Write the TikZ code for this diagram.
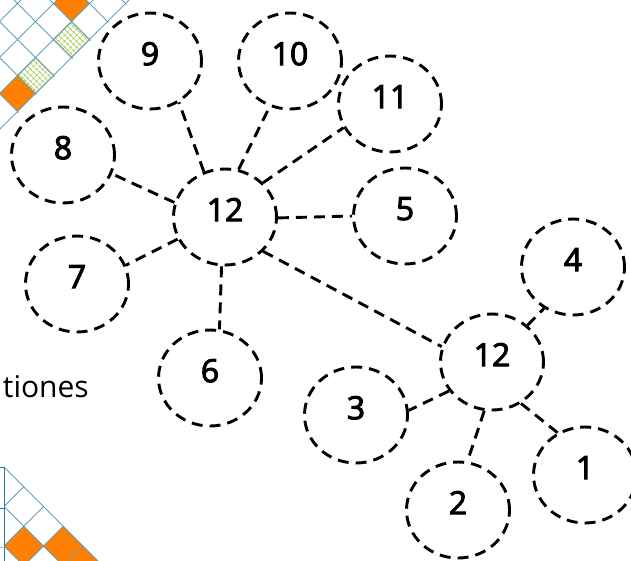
\documentclass[tikz,border=0pt]{standalone}
\usepackage{fontspec}
\setmainfont{Open Sans}
\newfontfamily\numfont{Open Sans}[FakeBold=3]
\usetikzlibrary{shapes.geometric,patterns.meta}

\definecolor{gridteal}{HTML}{5E9FB8}
\definecolor{frameteal}{HTML}{2C7C99}
\definecolor{tileorange}{HTML}{FF8000}
\definecolor{hatchgreen}{HTML}{A9C94C}
\definecolor{edgegreen}{HTML}{78A32E}

\tikzset{
  bubble/.style={ellipse, draw, line width=2.9pt, dash pattern=on 11pt off 7pt,
    minimum width=103pt, minimum height=96pt, inner sep=0pt,
    font=\numfont\fontsize{32}{36}\selectfont, text depth=14.8pt},
  link/.style={line width=2.9pt, dash pattern=on 11pt off 7pt},
  gridline/.style={gridteal, line width=0.8pt},
  orangetile/.style={fill=tileorange},
  greentile/.style={fill=white, postaction={pattern={Hatch[angle=45,distance=4pt,line width=0.55pt]}, pattern color=hatchgreen}, draw=edgegreen, line width=0.8pt}
}

\begin{document}
\begin{tikzpicture}[x=1pt,y=-1pt]
\useasboundingbox (0,0) rectangle (631,560);

% ---- diagonal tile corner, top left ----
\begin{scope}
  \clip (0,0) -- (131,0) -- (0,131) -- cycle;
  \foreach \cx/\cy in {71.5/3.5, 17.5/93.5}
    \fill[orangetile] (\cx,\cy-18) -- (\cx+18,\cy) -- (\cx,\cy+18) -- (\cx-18,\cy) -- cycle;
  \foreach \cx/\cy in {71.5/39.5, 35.5/75.5}
    \path[greentile] (\cx,\cy-18) -- (\cx+18,\cy) -- (\cx,\cy+18) -- (\cx-18,\cy) -- cycle;
  \foreach \u in {21,57,93,129}
    \draw[gridline] (-20,\u+20) -- (\u+20,-20);
  \foreach \v in {-94,-58,-22,14,50,86,122}
    \draw[gridline] (-60,-60-\v) -- (220,220-\v);
\end{scope}

% ---- diagonal tile corner, bottom left ----
\begin{scope}
  \clip (4,467) -- (120,583) -- (4,583) -- cycle;
  \foreach \cx/\cy in {23.75/546, 63.25/546, 83/565.75}
    \fill[orangetile] (\cx,\cy-19.75) -- (\cx+19.75,\cy) -- (\cx,\cy+19.75) -- (\cx-19.75,\cy) -- cycle;
  \foreach \u in {510.5,550,589.5,629}
    \draw[gridline] (0,\u) -- (\u-440,440);
  \foreach \v in {-502.5,-542}
    \draw[gridline] (0,-\v) -- (200,200-\v);
\end{scope}
\draw[gridline] (4,467) -- (100,563);
\draw[frameteal, line width=1pt] (4,467) -- (4,562);
\draw[frameteal, line width=1pt] (0,467) -- (4,467);
\draw[frameteal, line width=1pt] (0,508) -- (4,508);
\draw[gridteal!70, line width=1pt] (0,547) -- (5,547);

% ---- cut-off caption ----
\node[anchor=base east, inner sep=0pt, font=\fontsize{30}{34}\selectfont] (caption) at (89,397) {tiones};

% ---- bubbles ----
\node[bubble] (ta) at (225,217) {12};
\node[bubble] (tb) at (492,362) {12};
\node[bubble] (n9)  at (150,61)  {9};
\node[bubble] (n10) at (290,61)  {10};
\node[bubble] (n11) at (390,104) {11};
\node[bubble] (n8)  at (63,155)  {8};
\node[bubble] (n5)  at (405,216) {5};
\node[bubble] (n7)  at (77,284)  {7};
\node[bubble] (n6)  at (210,378) {6};
\node[bubble] (n4)  at (573,267) {4};
\node[bubble] (n3)  at (356,415) {3};
\node[bubble] (n2)  at (458,510) {2};
\node[bubble] (n1)  at (585,475) {1};

% ---- links from the upper hub ----
\draw[link] (ta.115)   -- (n9.-55);
\draw[link] (ta.74.5)  -- (n10.246);
\draw[link] (ta.42)    -- (n11.207);
\draw[link] (ta.164)   -- (n8.-21);
\draw[link] (ta.-1)    -- (n5.180);
\draw[link] (ta.205)   -- (n7.21);
\draw[link] (ta.266.5) -- (n6.79.5);
\draw[link] (ta.-42)   -- (tb.163);

% ---- links from the lower hub ----
\draw[link] (tb.46)    -- (n4.235);
\draw[link] (tb.214)   -- (n3.5.6);
\draw[link] (tb.261.5) -- (n2.79.5);
\draw[link] (tb.-55.5) -- (n1.123);
\end{tikzpicture}
\end{document}
